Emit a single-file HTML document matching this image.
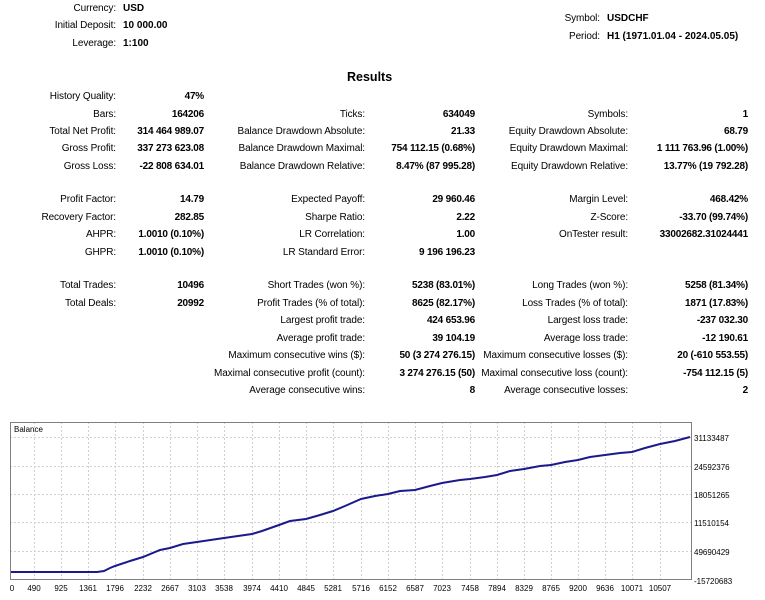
<!DOCTYPE html>
<html><head><meta charset="utf-8"><style>
body{margin:0;width:765px;height:600px;background:#fff;position:relative;overflow:hidden;font-family:"Liberation Sans",sans-serif;font-size:10px;color:#000}
.l,.v{position:absolute;white-space:nowrap;line-height:12px}
.l{text-align:right;letter-spacing:-0.1px}
.v{font-weight:bold;text-align:right;letter-spacing:-0.2px}
.a{left:0;width:116px}.av{left:120px;width:84px}
.b{left:150px;width:215px}.bv{left:365px;width:110px}
.c{left:470px;width:158px}.cv{left:628px;width:120px}
.vl{font-weight:bold;position:absolute;white-space:nowrap;line-height:12px}
</style></head><body>
<div class="l a" style="top:3px">Currency:</div><div class="vl" style="left:123px;top:3px">USD</div>
<div class="l a" style="top:20px">Initial Deposit:</div><div class="vl" style="left:123px;top:20px">10 000.00</div>
<div class="l a" style="top:38px">Leverage:</div><div class="vl" style="left:123px;top:38px">1:100</div>
<div class="l" style="left:450px;width:150px;top:13px">Symbol:</div><div class="vl" style="left:607px;top:13px">USDCHF</div>
<div class="l" style="left:450px;width:150px;top:31px">Period:</div><div class="vl" style="left:607px;top:31px">H1 (1971.01.04 - 2024.05.05)</div>
<div class="vl" style="left:347px;top:70px;font-size:12.5px;line-height:15px">Results</div>

<div class="l a" style="top:91px">History Quality:</div><div class="v av" style="top:91px">47%</div>
<div class="l a" style="top:109px">Bars:</div><div class="v av" style="top:109px">164206</div>
<div class="l b" style="top:109px">Ticks:</div><div class="v bv" style="top:109px">634049</div>
<div class="l c" style="top:109px">Symbols:</div><div class="v cv" style="top:109px">1</div>
<div class="l a" style="top:126px">Total Net Profit:</div><div class="v av" style="top:126px">314 464 989.07</div>
<div class="l b" style="top:126px">Balance Drawdown Absolute:</div><div class="v bv" style="top:126px">21.33</div>
<div class="l c" style="top:126px">Equity Drawdown Absolute:</div><div class="v cv" style="top:126px">68.79</div>
<div class="l a" style="top:143px">Gross Profit:</div><div class="v av" style="top:143px">337 273 623.08</div>
<div class="l b" style="top:143px">Balance Drawdown Maximal:</div><div class="v bv" style="top:143px">754 112.15 (0.68%)</div>
<div class="l c" style="top:143px">Equity Drawdown Maximal:</div><div class="v cv" style="top:143px">1 111 763.96 (1.00%)</div>
<div class="l a" style="top:161px">Gross Loss:</div><div class="v av" style="top:161px">-22 808 634.01</div>
<div class="l b" style="top:161px">Balance Drawdown Relative:</div><div class="v bv" style="top:161px">8.47% (87 995.28)</div>
<div class="l c" style="top:161px">Equity Drawdown Relative:</div><div class="v cv" style="top:161px">13.77% (19 792.28)</div>

<div class="l a" style="top:194px">Profit Factor:</div><div class="v av" style="top:194px">14.79</div>
<div class="l b" style="top:194px">Expected Payoff:</div><div class="v bv" style="top:194px">29 960.46</div>
<div class="l c" style="top:194px">Margin Level:</div><div class="v cv" style="top:194px">468.42%</div>
<div class="l a" style="top:212px">Recovery Factor:</div><div class="v av" style="top:212px">282.85</div>
<div class="l b" style="top:212px">Sharpe Ratio:</div><div class="v bv" style="top:212px">2.22</div>
<div class="l c" style="top:212px">Z-Score:</div><div class="v cv" style="top:212px">-33.70 (99.74%)</div>
<div class="l a" style="top:229px">AHPR:</div><div class="v av" style="top:229px">1.0010 (0.10%)</div>
<div class="l b" style="top:229px">LR Correlation:</div><div class="v bv" style="top:229px">1.00</div>
<div class="l c" style="top:229px">OnTester result:</div><div class="v cv" style="top:229px">33002682.31024441</div>
<div class="l a" style="top:247px">GHPR:</div><div class="v av" style="top:247px">1.0010 (0.10%)</div>
<div class="l b" style="top:247px">LR Standard Error:</div><div class="v bv" style="top:247px">9 196 196.23</div>

<div class="l a" style="top:280px">Total Trades:</div><div class="v av" style="top:280px">10496</div>
<div class="l b" style="top:280px">Short Trades (won %):</div><div class="v bv" style="top:280px">5238 (83.01%)</div>
<div class="l c" style="top:280px">Long Trades (won %):</div><div class="v cv" style="top:280px">5258 (81.34%)</div>
<div class="l a" style="top:298px">Total Deals:</div><div class="v av" style="top:298px">20992</div>
<div class="l b" style="top:298px">Profit Trades (% of total):</div><div class="v bv" style="top:298px">8625 (82.17%)</div>
<div class="l c" style="top:298px">Loss Trades (% of total):</div><div class="v cv" style="top:298px">1871 (17.83%)</div>
<div class="l b" style="top:315px">Largest profit trade:</div><div class="v bv" style="top:315px">424 653.96</div>
<div class="l c" style="top:315px">Largest loss trade:</div><div class="v cv" style="top:315px">-237 032.30</div>
<div class="l b" style="top:333px">Average profit trade:</div><div class="v bv" style="top:333px">39 104.19</div>
<div class="l c" style="top:333px">Average loss trade:</div><div class="v cv" style="top:333px">-12 190.61</div>
<div class="l b" style="top:350px">Maximum consecutive wins ($):</div><div class="v bv" style="top:350px">50 (3 274 276.15)</div>
<div class="l c" style="top:350px">Maximum consecutive losses ($):</div><div class="v cv" style="top:350px">20 (-610 553.55)</div>
<div class="l b" style="top:368px">Maximal consecutive profit (count):</div><div class="v bv" style="top:368px">3 274 276.15 (50)</div>
<div class="l c" style="top:368px">Maximal consecutive loss (count):</div><div class="v cv" style="top:368px">-754 112.15 (5)</div>
<div class="l b" style="top:385px">Average consecutive wins:</div><div class="v bv" style="top:385px">8</div>
<div class="l c" style="top:385px">Average consecutive losses:</div><div class="v cv" style="top:385px">2</div>

<svg style="position:absolute;left:0;top:0" width="765" height="600" font-family="Liberation Sans, sans-serif" font-size="8">
<g stroke="#d0d0d0" stroke-dasharray="2,2" stroke-width="1">
<line x1="10" y1="437.5" x2="692" y2="437.5"/><line x1="10" y1="466.5" x2="692" y2="466.5"/><line x1="10" y1="494.5" x2="692" y2="494.5"/><line x1="10" y1="522.5" x2="692" y2="522.5"/><line x1="10" y1="551.5" x2="692" y2="551.5"/>
<line x1="34.5" y1="422" x2="34.5" y2="580"/><line x1="61.5" y1="422" x2="61.5" y2="580"/><line x1="88.5" y1="422" x2="88.5" y2="580"/><line x1="115.5" y1="422" x2="115.5" y2="580"/><line x1="143.5" y1="422" x2="143.5" y2="580"/><line x1="170.5" y1="422" x2="170.5" y2="580"/><line x1="197.5" y1="422" x2="197.5" y2="580"/><line x1="224.5" y1="422" x2="224.5" y2="580"/><line x1="252.5" y1="422" x2="252.5" y2="580"/><line x1="279.5" y1="422" x2="279.5" y2="580"/><line x1="306.5" y1="422" x2="306.5" y2="580"/><line x1="333.5" y1="422" x2="333.5" y2="580"/><line x1="361.5" y1="422" x2="361.5" y2="580"/><line x1="388.5" y1="422" x2="388.5" y2="580"/><line x1="415.5" y1="422" x2="415.5" y2="580"/><line x1="442.5" y1="422" x2="442.5" y2="580"/><line x1="470.5" y1="422" x2="470.5" y2="580"/><line x1="497.5" y1="422" x2="497.5" y2="580"/><line x1="524.5" y1="422" x2="524.5" y2="580"/><line x1="551.5" y1="422" x2="551.5" y2="580"/><line x1="578.5" y1="422" x2="578.5" y2="580"/><line x1="605.5" y1="422" x2="605.5" y2="580"/><line x1="632.5" y1="422" x2="632.5" y2="580"/><line x1="660.5" y1="422" x2="660.5" y2="580"/>
</g>
<rect x="10.5" y="422.5" width="681" height="157" fill="none" stroke="#808080"/>
<text x="14" y="432">Balance</text>
<polyline fill="none" stroke="#1a1a8c" stroke-width="2" points="11,572 97,572 104,571 110,568 115,566 130,561 143,557 160,550 170,548 183,544 197,542 224,538 252,534 262,531 279,525 290,521 306,519 320,515 333,511 345,506 361,499 375,496 388,494 400,491 415,490 430,486 442,483 460,480 470,479 485,477 497,475 510,471 524,469 540,466 551,465 565,462 578,460 590,457 605,455 620,453 632,452 645,448 660,444 675,441 690,437"/>
<g>
<text x="694" y="441">31133487</text><text x="694" y="470">24592376</text><text x="694" y="498">18051265</text><text x="694" y="526">11510154</text><text x="694" y="555">49690429</text><text x="694" y="584">-15720683</text>
</g>
<g text-anchor="middle">
<text x="12" y="591">0</text><text x="34" y="591">490</text><text x="61" y="591">925</text><text x="88" y="591">1361</text><text x="115" y="591">1796</text><text x="143" y="591">2232</text><text x="170" y="591">2667</text><text x="197" y="591">3103</text><text x="224" y="591">3538</text><text x="252" y="591">3974</text><text x="279" y="591">4410</text><text x="306" y="591">4845</text><text x="333" y="591">5281</text><text x="361" y="591">5716</text><text x="388" y="591">6152</text><text x="415" y="591">6587</text><text x="442" y="591">7023</text><text x="470" y="591">7458</text><text x="497" y="591">7894</text><text x="524" y="591">8329</text><text x="551" y="591">8765</text><text x="578" y="591">9200</text><text x="605" y="591">9636</text><text x="632" y="591">10071</text><text x="660" y="591">10507</text>
</g>
</svg>
</body></html>
